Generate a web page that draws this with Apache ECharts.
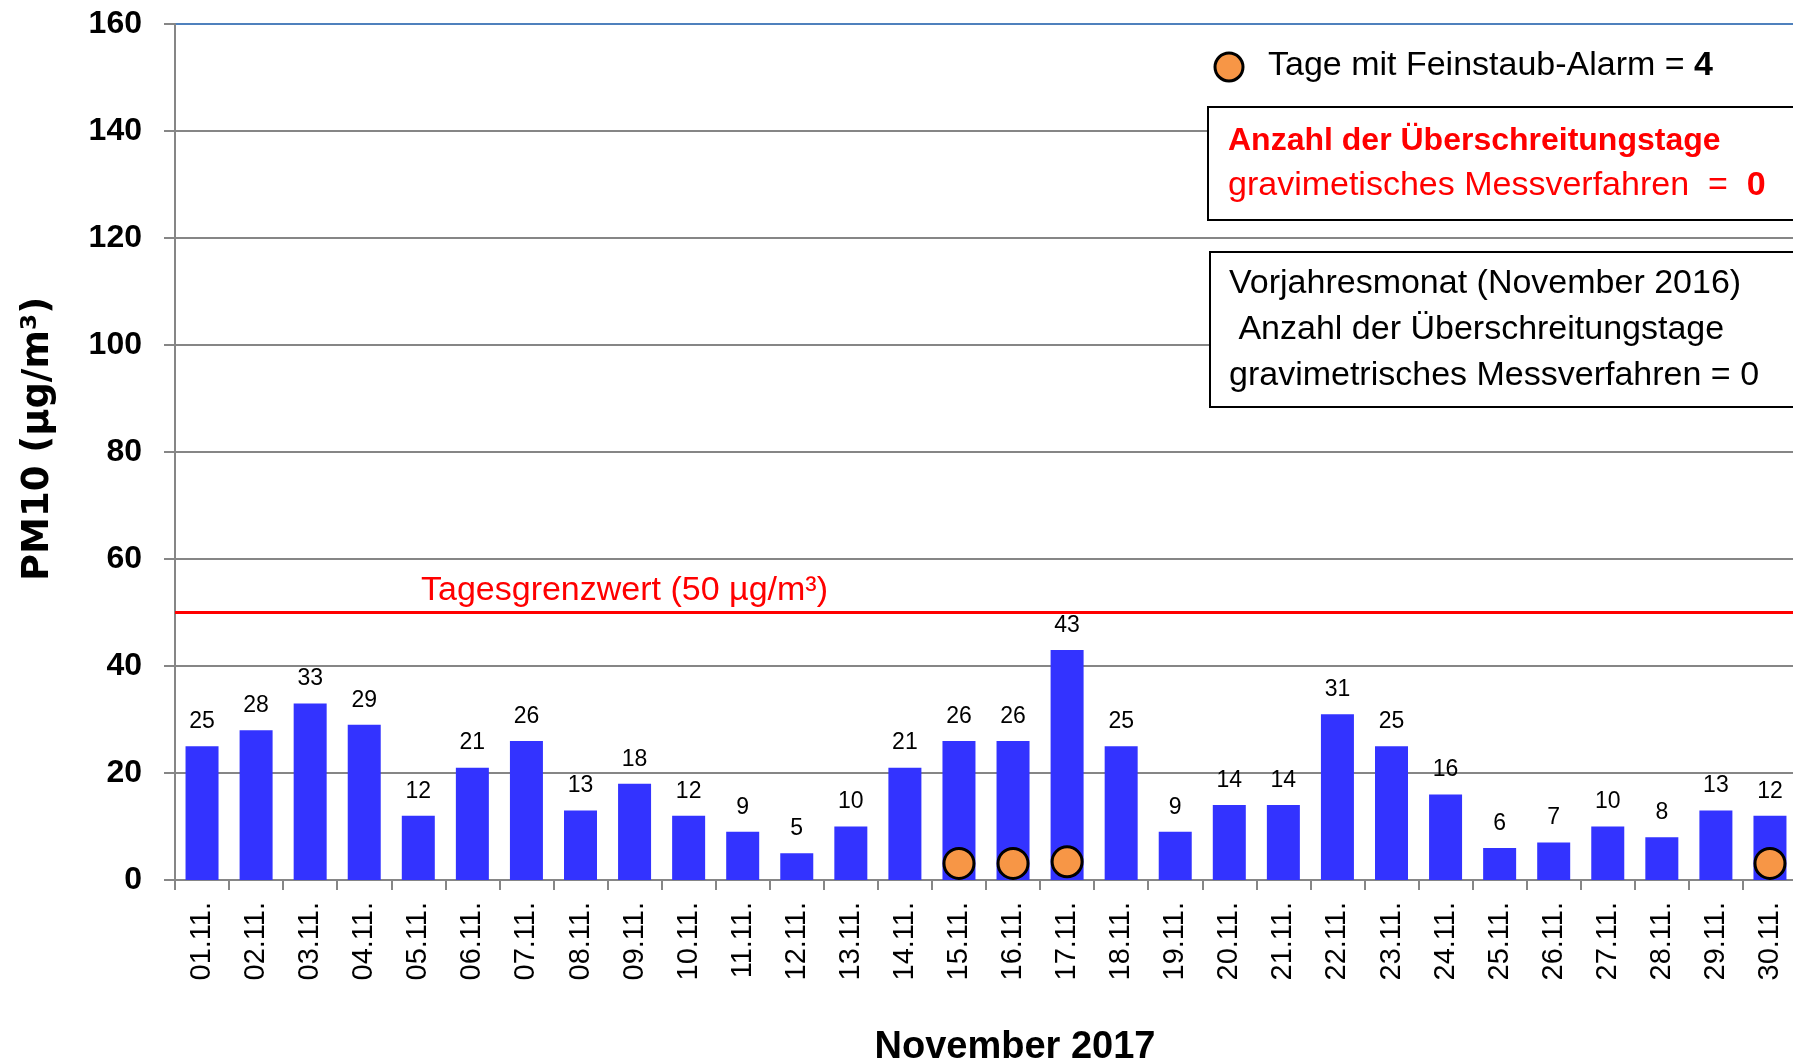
<!DOCTYPE html>
<html>
<head>
<meta charset="utf-8">
<title>PM10 November 2017</title>
<script src="https://cdn.jsdelivr.net/npm/echarts@6/dist/echarts.min.js"></script>
<style>
  html, body { margin: 0; padding: 0; background: #fff; }
  #pm10_chart { width: 1793px; height: 1063px; }
</style>
</head>
<body>
<div id="pm10_chart"></div>
<script>
const days = ['01.11.', '02.11.', '03.11.', '04.11.', '05.11.', '06.11.', '07.11.', '08.11.', '09.11.', '10.11.',
  '11.11.', '12.11.', '13.11.', '14.11.', '15.11.', '16.11.', '17.11.', '18.11.', '19.11.', '20.11.',
  '21.11.', '22.11.', '23.11.', '24.11.', '25.11.', '26.11.', '27.11.', '28.11.', '29.11.', '30.11.'];
const pm10 = [25, 28, 33, 29, 12, 21, 26, 13, 18, 12, 9, 5, 10, 21, 26, 26, 43, 25, 9, 14, 14, 31, 25, 16, 6, 7, 10, 8, 13, 12];
// orange markers for alarm days, sitting near the bottom of the bar
const alarm = [null, null, null, null, null, null, null, null, null, null, null, null, null, null, 3.1,
  3.1, 3.4, null, null, null, null, null, null, null, null, null, null, null, null, 3.1];
const yMin = 0;
const yMax = 160;
const yStep = 20;
const limit = 50;

const FONT = '"Liberation Sans", Arial, sans-serif';
const grey = '#868686';

const option = {
  backgroundColor: '#fff',
  animation: false,
  grid: { left: 175, top: 24, width: 1622, height: 856, containLabel: false, outerBoundsMode: 'none' },
  xAxis: {
    type: 'category',
    data: days,
    name: 'November 2017',
    nameLocation: 'middle',
    nameGap: 149,
    nameTextStyle: { fontFamily: FONT, fontWeight: 'bold', fontSize: 38, color: '#000', padding: [0, 0, 0, 58] },
    axisLine: { lineStyle: { color: grey, width: 2 } },
    axisTick: { show: true, length: 10, lineStyle: { color: grey, width: 2 } },
    axisLabel: { rotate: 90, margin: 22, fontFamily: FONT, fontSize: 29, color: '#000', interval: 0 },
    splitLine: { show: false }
  },
  yAxis: {
    type: 'value',
    min: yMin,
    max: yMax,
    interval: yStep,
    name: 'PM10 (µg/m³)',
    nameLocation: 'middle',
    nameGap: 118,
    nameTextStyle: { fontFamily: '"DejaVu Sans", sans-serif', fontWeight: 'bold', fontSize: 37, color: '#000', padding: [0, 0, 0, 26] },
    axisLine: { show: true, lineStyle: { color: grey, width: 2 } },
    axisTick: { show: true, length: 11, lineStyle: { color: grey, width: 2 } },
    axisLabel: { margin: 33, fontFamily: FONT, fontWeight: 'bold', fontSize: 32, color: '#000' },
    splitLine: {
      show: true,
      lineStyle: { width: 2, color: [grey, grey, grey, grey, grey, grey, grey, grey, '#4F81BD'] }
    }
  },
  series: [
    {
      name: 'PM10',
      type: 'bar',
      data: pm10,
      barWidth: 33,
      itemStyle: { color: '#3333FF' },
      label: { show: true, position: 'top', distance: 13, fontFamily: FONT, fontSize: 23, color: '#000' },
      markLine: {
        silent: true,
        symbol: ['none', 'none'],
        label: { show: false },
        lineStyle: { color: '#FF0000', width: 3, type: 'solid' },
        data: [{ yAxis: limit }]
      },
      z: 2
    },
    {
      name: 'Feinstaub-Alarm',
      type: 'scatter',
      data: alarm,
      symbol: 'circle',
      symbolSize: 30,
      itemStyle: { color: '#F79646', borderColor: '#000', borderWidth: 3, opacity: 1 },
      z: 5
    }
  ],
  graphic: [
    {
      type: 'text', x: 421, y: 591,
      style: { text: 'Tagesgrenzwert (50 µg/m³)', fill: '#FF0000', font: '34px ' + FONT, verticalAlign: 'middle' }
    },
    {
      type: 'circle', x: 1229, y: 67,
      shape: { r: 14 },
      style: { fill: '#F79646', stroke: '#000', lineWidth: 3 }
    },
    {
      type: 'text', x: 1268, y: 66,
      style: {
        text: 'Tage mit Feinstaub-Alarm = {b|4}',
        fill: '#000', font: '34px ' + FONT, verticalAlign: 'middle',
        rich: { b: { fontFamily: FONT, fontSize: 34, fontWeight: 'bold', fill: '#000' } }
      }
    },
    {
      type: 'rect', x: 1208, y: 107,
      shape: { width: 620, height: 113 },
      style: { fill: '#fff', stroke: '#000', lineWidth: 2 },
      z: 10
    },
    {
      type: 'text', x: 1228, y: 141, z: 11,
      style: { text: 'Anzahl der Überschreitungstage', fill: '#FF0000', font: 'bold 32px ' + FONT, verticalAlign: 'middle' }
    },
    {
      type: 'text', x: 1228, y: 186, z: 11,
      style: {
        text: 'gravimetisches Messverfahren  =  {b|0}',
        fill: '#FF0000', font: '34px ' + FONT, verticalAlign: 'middle',
        rich: { b: { fontFamily: FONT, fontSize: 34, fontWeight: 'bold', fill: '#FF0000' } }
      }
    },
    {
      type: 'rect', x: 1210, y: 252,
      shape: { width: 620, height: 155 },
      style: { fill: '#fff', stroke: '#000', lineWidth: 2 },
      z: 10
    },
    {
      type: 'text', x: 1229, y: 284, z: 11,
      style: { text: 'Vorjahresmonat (November 2016)', fill: '#000', font: '34px ' + FONT, verticalAlign: 'middle' }
    },
    {
      type: 'text', x: 1229, y: 330, z: 11,
      style: { text: ' Anzahl der Überschreitungstage', fill: '#000', font: '34px ' + FONT, verticalAlign: 'middle' }
    },
    {
      type: 'text', x: 1229, y: 376, z: 11,
      style: { text: 'gravimetrisches Messverfahren = 0', fill: '#000', font: '34px ' + FONT, verticalAlign: 'middle' }
    }
  ]
};

echarts.init(document.getElementById('pm10_chart')).setOption(option);
</script>
</body>
</html>
